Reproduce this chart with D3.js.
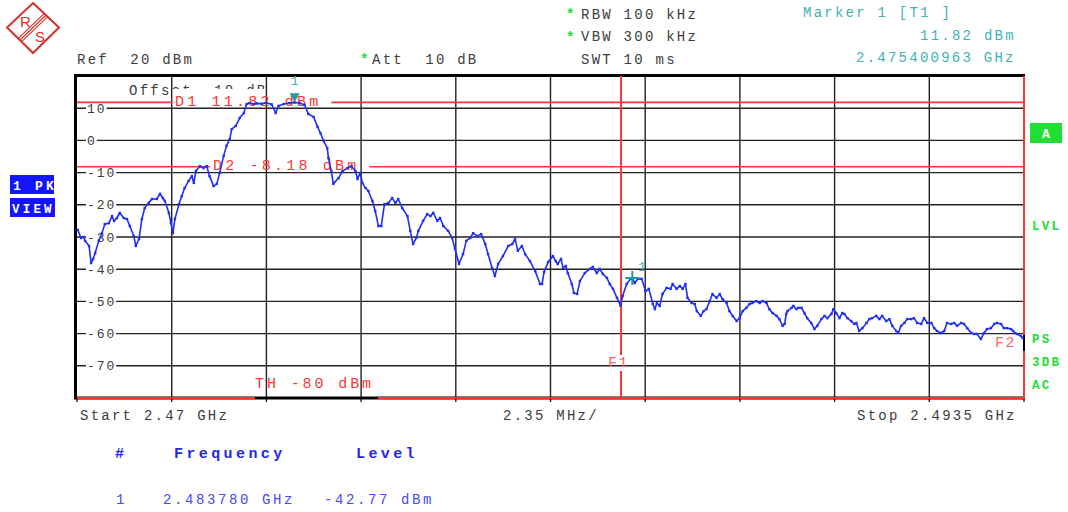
<!DOCTYPE html>
<html>
<head>
<meta charset="utf-8">
<script src="https://cdn.jsdelivr.net/npm/d3@7"></script>
<style>
  body { margin: 0; background: #fff; }
  svg { display: block; }
  text { white-space: pre; }
</style>
</head>
<body>
<svg id="chart" width="1068" height="512"></svg>
<script>
// Spectrum analyzer screen (R&S style), trace
const startFreq = 2470, stopFreq = 2493.5, spanPerDiv = 2.35; // MHz
const refLevel = 20, bottomLevel = -80;                         // dBm
const yTicks = [10, 0, -10, -20, -30, -40, -50, -60, -70];

const traceFreq = [
  2470.02, 2470.10, 2470.17, 2470.20, 2470.30, 2470.35, 2470.40, 2470.45, 2470.54, 2470.62,
  2470.69, 2470.79, 2470.87, 2470.92, 2470.99, 2471.06, 2471.16, 2471.24, 2471.31, 2471.41,
  2471.46, 2471.54, 2471.61, 2471.68, 2471.78, 2471.86, 2471.98, 2472.06, 2472.13, 2472.18,
  2472.28, 2472.33, 2472.38, 2472.43, 2472.53, 2472.60, 2472.67, 2472.77, 2472.85, 2472.90,
  2472.95, 2473.05, 2473.14, 2473.22, 2473.29, 2473.39, 2473.47, 2473.54, 2473.64, 2473.71,
  2473.79, 2473.84, 2473.94, 2474.04, 2474.14, 2474.21, 2474.28, 2474.38, 2474.46, 2474.58,
  2474.70, 2474.83, 2474.93, 2475.00, 2475.13, 2475.27, 2475.40, 2475.52, 2475.65, 2475.74,
  2475.87, 2475.97, 2476.04, 2476.12, 2476.21, 2476.24, 2476.31, 2476.36, 2476.49, 2476.59,
  2476.71, 2476.81, 2476.91, 2476.96, 2477.03, 2477.08, 2477.16, 2477.23, 2477.33, 2477.40,
  2477.48, 2477.55, 2477.63, 2477.73, 2477.82, 2477.90, 2477.97, 2478.07, 2478.20, 2478.27,
  2478.34, 2478.42, 2478.47, 2478.59, 2478.69, 2478.77, 2478.84, 2478.94, 2479.01, 2479.09,
  2479.21, 2479.31, 2479.38, 2479.48, 2479.58, 2479.66, 2479.76, 2479.83, 2479.93, 2480.03,
  2480.13, 2480.20, 2480.30, 2480.37, 2480.45, 2480.57, 2480.70, 2480.80, 2480.87, 2480.94,
  2481.04, 2481.12, 2481.24, 2481.37, 2481.49, 2481.54, 2481.59, 2481.69, 2481.81, 2481.88,
  2481.93, 2482.01, 2482.06, 2482.13, 2482.18, 2482.28, 2482.33, 2482.41, 2482.48, 2482.60,
  2482.73, 2482.80, 2482.90, 2482.97, 2483.05, 2483.15, 2483.22, 2483.30, 2483.40, 2483.49,
  2483.54, 2483.64, 2483.74, 2483.78, 2483.84, 2483.92, 2484.01, 2484.11, 2484.19, 2484.29,
  2484.34, 2484.39, 2484.46, 2484.53, 2484.63, 2484.73, 2484.78, 2484.88, 2484.96, 2485.03,
  2485.10, 2485.15, 2485.25, 2485.33, 2485.38, 2485.48, 2485.55, 2485.62, 2485.70, 2485.77,
  2485.87, 2485.95, 2486.02, 2486.12, 2486.19, 2486.27, 2486.37, 2486.44, 2486.52, 2486.61,
  2486.69, 2486.76, 2486.86, 2486.94, 2487.01, 2487.11, 2487.18, 2487.26, 2487.36, 2487.43,
  2487.51, 2487.56, 2487.60, 2487.63, 2487.73, 2487.78, 2487.85, 2487.90, 2487.98, 2488.05,
  2488.12, 2488.22, 2488.30, 2488.37, 2488.47, 2488.55, 2488.62, 2488.72, 2488.77, 2488.84,
  2488.92, 2488.99, 2489.04, 2489.12, 2489.21, 2489.29, 2489.34, 2489.41, 2489.49, 2489.59,
  2489.66, 2489.73, 2489.83, 2489.91, 2489.98, 2490.08, 2490.16, 2490.23, 2490.33, 2490.38,
  2490.45, 2490.53, 2490.60, 2490.70, 2490.77, 2490.85, 2490.95, 2491.02, 2491.10, 2491.20,
  2491.27, 2491.34, 2491.44, 2491.52, 2491.59, 2491.69, 2491.77, 2491.84, 2491.94, 2492.01,
  2492.09, 2492.19, 2492.26, 2492.33, 2492.43, 2492.51, 2492.58, 2492.68, 2492.76, 2492.83,
  2492.93, 2493.00, 2493.08, 2493.18, 2493.23, 2493.32, 2493.42, 2493.47
];
const traceLevel = [
  -27.8, -30.3, -30.0, -31.2, -32.8, -38.1, -36.8, -35.0, -31.2, -28.8,
  -26.0, -25.7, -23.5, -25.0, -24.1, -22.5, -24.1, -24.4, -26.6, -29.7,
  -32.8, -30.6, -24.4, -21.0, -19.4, -18.2, -18.2, -16.6, -17.9, -18.8,
  -22.5, -25.7, -28.8, -24.4, -19.8, -17.3, -14.8, -12.6, -11.1, -13.2,
  -9.5, -8.0, -8.6, -8.0, -11.1, -14.2, -13.5, -10.1, -4.8, -1.7,
  0.4, 3.5, 4.5, 7.0, 8.5, 11.3, 11.6, 11.3, 11.5, 11.4,
  11.6, 11.2, 8.5, 10.7, 11.3, 11.6, 11.82, 11.6, 11.0, 8.2,
  7.3, 4.2, 2.3, -0.2, -2.4, -5.5, -9.5, -13.5, -11.7, -9.5,
  -8.6, -8.0, -9.5, -12.0, -10.1, -13.2, -14.8, -15.7, -18.8, -21.9,
  -26.6, -26.6, -19.8, -19.4, -17.9, -19.4, -18.2, -21.0, -23.5, -28.1,
  -32.2, -30.3, -28.1, -25.0, -22.9, -23.5, -22.5, -25.0, -24.1, -26.6,
  -28.1, -30.3, -33.7, -38.4, -35.3, -31.2, -30.3, -28.8, -29.7, -29.1,
  -32.2, -35.3, -39.6, -42.1, -38.4, -35.9, -32.8, -32.2, -30.6, -34.3,
  -32.8, -35.3, -37.5, -40.6, -44.6, -44.6, -40.9, -37.8, -35.9, -37.5,
  -38.4, -36.8, -39.6, -39.0, -41.2, -44.6, -47.4, -47.7, -43.7, -41.2,
  -39.9, -39.3, -41.2, -39.9, -41.5, -42.7, -44.6, -46.1, -48.9, -51.4,
  -48.3, -44.6, -43.0, -42.77, -44.3, -43.0, -43.0, -46.8, -46.1, -50.8,
  -52.4, -50.5, -51.4, -47.7, -45.8, -46.1, -44.6, -46.1, -45.2, -46.1,
  -44.6, -48.9, -50.5, -50.8, -53.0, -54.5, -53.0, -52.4, -49.9, -47.7,
  -48.9, -47.7, -49.3, -50.5, -53.0, -54.5, -56.1, -55.2, -53.0, -52.0,
  -50.8, -50.5, -49.9, -50.5, -49.9, -50.5, -52.4, -53.6, -54.5, -55.5,
  -57.6, -57.0, -53.9, -53.0, -52.0, -51.4, -52.4, -52.0, -52.0, -53.6,
  -55.2, -56.7, -58.6, -57.6, -55.5, -54.5, -55.2, -53.9, -52.4, -53.6,
  -55.2, -53.6, -53.9, -55.2, -56.1, -57.0, -56.7, -59.2, -58.3, -56.7,
  -55.5, -55.2, -54.5, -55.5, -54.5, -56.1, -55.5, -57.6, -59.2, -59.8,
  -57.6, -56.7, -55.5, -55.5, -55.2, -56.7, -57.0, -55.2, -56.7, -56.7,
  -58.3, -59.2, -59.8, -59.2, -56.7, -57.0, -56.7, -57.6, -56.7, -57.0,
  -58.3, -59.8, -60.1, -60.1, -61.7, -59.8, -58.6, -58.3, -57.0, -56.7,
  -57.0, -58.3, -58.3, -58.6, -59.2, -60.1, -60.7, -61.4
];

const displayLines = [{ name: 'D1', level: 11.82 }, { name: 'D2', level: -8.18 }];
const threshold = { name: 'TH', level: -80 };
const freqLines = [{ name: 'F1', freq: 2483.5 }, { name: 'F2', freq: 2493.5 }];
const marker1 = { freq: 2475.400963, level: 11.82 };
const marker2 = { freq: 2483.78, level: -42.77 };

const headerLeft = ['Ref  20 dBm', 'Att  10 dB'];
const headerMid = ['RBW 100 kHz', 'VBW 300 kHz', 'SWT 10 ms'];
const headerRight = ['Marker 1 [T1 ]', '11.82 dBm', '2.475400963 GHz'];
const footerAxis = ['Start 2.47 GHz', '2.35 MHz/', 'Stop 2.4935 GHz'];
const tableHead = ['#', 'Frequency', 'Level'];
const tableRow = ['1', '2.483780 GHz', '-42.77 dBm'];
const sideRight = ['LVL', 'PS', '3DB', 'AC'];

const svg = d3.select('#chart');
const mono = '"Liberation Mono", "DejaVu Sans Mono", monospace';
const x = d3.scaleLinear().domain([startFreq, stopFreq]).range([77, 1024]);
const y = d3.scaleLinear().domain([bottomLevel, refLevel]).range([398, 76]);

const GRAY = '#3c3c3c', RED = '#ff3535', RED2 = '#ff6464', TEAL = '#3fb3b3',
      TEAL2 = '#1f9c9c', BLUE = '#1e30f5', GREEN = '#22dd33';

function txt(parent, px, py, s, size, spacing, color, weight) {
  return parent.append('text')
    .attr('x', px).attr('y', py)
    .attr('font-family', mono).attr('font-size', size)
    .attr('font-weight', weight || 'normal')
    .style('letter-spacing', spacing + 'px')
    .attr('fill', color).text(s);
}

// offset note, partly hidden under the D1 label box
txt(svg, 129, 95, 'Offset  10 dB', 14, 2.25, GRAY);
svg.append('rect').attr('x', 172).attr('y', 89).attr('width', 160).attr('height', 17).attr('fill', '#fff');

// grid
const grid = svg.append('g').attr('stroke', '#222').attr('stroke-width', 1.4);
d3.range(1, 10).forEach(i => {
  const gx = x(startFreq + i * spanPerDiv);
  grid.append('line').attr('x1', gx).attr('x2', gx).attr('y1', y(refLevel)).attr('y2', y(bottomLevel));
});
yTicks.forEach(v => {
  grid.append('line').attr('x1', x(startFreq)).attr('x2', x(stopFreq)).attr('y1', y(v)).attr('y2', y(v));
});
d3.range(0, 11).forEach(i => {
  const gx = x(startFreq + i * spanPerDiv);
  grid.append('line').attr('x1', gx).attr('x2', gx).attr('y1', y(bottomLevel)).attr('y2', y(bottomLevel) + 4);
});

// level labels inside the plot, with white behind them
yTicks.forEach(v => {
  const t = txt(svg, 87, y(v) + 4.5, String(v), 13, 1.9, GRAY);
  const w = t.node().getComputedTextLength() - 1.9;
  svg.insert('rect', 'text:last-of-type').attr('x', 86).attr('y', y(v) - 3).attr('width', w + 3).attr('height', 6).attr('fill', '#fff');
  t.raise();
});

// frame
svg.append('line').attr('x1', 74).attr('x2', 1025).attr('y1', 75.5).attr('y2', 75.5).attr('stroke', '#000').attr('stroke-width', 3);
svg.append('line').attr('x1', 75.5).attr('x2', 75.5).attr('y1', 74).attr('y2', 399).attr('stroke', '#000').attr('stroke-width', 3);
svg.append('line').attr('x1', 74).attr('x2', 1025).attr('y1', y(bottomLevel)).attr('y2', y(bottomLevel)).attr('stroke', '#000').attr('stroke-width', 3);
svg.append('line').attr('x1', 1024).attr('x2', 1024).attr('y1', 74).attr('y2', 399).attr('stroke', '#000').attr('stroke-width', 2);

// display lines D1 / D2
const dStart = { D1: 175, D2: 213 };
displayLines.forEach(d => {
  const ly = y(d.level);
  const t = txt(svg, dStart[d.name], ly + 3.5, `${d.name} ${d.level.toFixed(2)} dBm`, 15, 3.2, RED);
  const w = t.node().getComputedTextLength();
  svg.append('line').attr('x1', x(startFreq)).attr('x2', dStart[d.name] - 3).attr('y1', ly).attr('y2', ly).attr('stroke', RED).attr('stroke-width', 1.6);
  svg.append('line').attr('x1', dStart[d.name] + w + 10).attr('x2', x(stopFreq)).attr('y1', ly).attr('y2', ly).attr('stroke', RED).attr('stroke-width', 1.6);
});

// threshold line on the bottom edge
{
  const ly = y(threshold.level);
  const t = txt(svg, 255, ly - 10, `${threshold.name} ${threshold.level} dBm`, 15, 2.9, RED);
  const w = t.node().getComputedTextLength();
  svg.append('line').attr('x1', x(startFreq)).attr('x2', 255).attr('y1', ly).attr('y2', ly).attr('stroke', RED).attr('stroke-width', 2);
  svg.append('line').attr('x1', 255 + w + 4).attr('x2', x(stopFreq) + 1).attr('y1', ly).attr('y2', ly).attr('stroke', RED).attr('stroke-width', 2);
}

// frequency lines F1 / F2
const fLabel = { F1: { x: 608, base: 367 }, F2: { x: 995, base: 347 } };
freqLines.forEach(f => {
  const lx = x(f.freq), lb = fLabel[f.name];
  txt(svg, lb.x, lb.base, f.name, 15, 1.5, RED2);
  svg.append('line').attr('x1', lx).attr('x2', lx).attr('y1', y(refLevel)).attr('y2', lb.base - 12).attr('stroke', RED).attr('stroke-width', 2);
  svg.append('line').attr('x1', lx).attr('x2', lx).attr('y1', lb.base + 4).attr('y2', y(bottomLevel) + 1).attr('stroke', RED).attr('stroke-width', 2);
});

// trace
const pts = traceFreq.map((f, i) => [x(f), y(traceLevel[i])]);
svg.append('path')
  .attr('d', d3.line()(pts))
  .attr('fill', 'none').attr('stroke', BLUE).attr('stroke-width', 1.6).attr('stroke-linejoin', 'round');
svg.append('g').selectAll('rect').data(pts).enter().append('rect')
  .attr('x', d => d[0] - 1.2).attr('y', d => d[1] - 1.2).attr('width', 2.4).attr('height', 2.4).attr('fill', BLUE);

// marker 1: triangle at the peak
{
  const mx = x(marker1.freq), my = y(marker1.level);
  svg.append('path').attr('d', `M${mx - 5},${my - 9}L${mx + 5},${my - 9}L${mx},${my}Z`).attr('fill', TEAL2);
  txt(svg, mx, my - 17, '1', 13, 0, TEAL).attr('text-anchor', 'middle');
}
// second marker: cross
{
  const mx = x(marker2.freq), my = y(marker2.level);
  svg.append('path').attr('d', `M${mx - 7},${my}H${mx + 7}M${mx},${my - 7}V${my + 7}`)
    .attr('stroke', TEAL2).attr('stroke-width', 2).attr('fill', 'none');
  txt(svg, mx + 6, my - 7, '1', 13, 0, TEAL);
}

// header
txt(svg, 77, 63.5, headerLeft[0], 14, 2.25, GRAY);
txt(svg, 360, 64, '*', 14, 0, GREEN, 'bold');
txt(svg, 372, 63.5, headerLeft[1], 14, 2.25, GRAY);
txt(svg, 566, 19, '*', 14, 0, GREEN, 'bold');
txt(svg, 566, 41.5, '*', 14, 0, GREEN, 'bold');
headerMid.forEach((s, i) => txt(svg, 581, [18.5, 41, 63.5][i], s, 14, 2.25, GRAY));
txt(svg, 803, 17, headerRight[0], 14, 2.25, TEAL);
txt(svg, 920, 39.5, headerRight[1], 14, 2.25, TEAL);
txt(svg, 856, 62, headerRight[2], 14, 2.25, TEAL);

// footer
txt(svg, 80, 420, footerAxis[0], 14, 2.25, GRAY);
txt(svg, 503, 420, footerAxis[1], 14, 2.25, GRAY);
txt(svg, 857, 420, footerAxis[2], 14, 2.25, GRAY);
[115, 174, 356].forEach((px, i) => txt(svg, px, 458, tableHead[i], 15, 3.4, '#2626e6', 'bold'));
[116, 163, 324].forEach((px, i) => txt(svg, px, 504, tableRow[i], 14, 2.6, '#4a4aee'));

// left status boxes
const clip = svg.append('clipPath').attr('id', 'pk');
clip.append('rect').attr('x', 10).attr('y', 175).attr('width', 44).attr('height', 19);
svg.append('rect').attr('x', 10).attr('y', 175).attr('width', 44).attr('height', 19).attr('fill', '#1414ff');
txt(svg, 13, 190, '1 PK', 13, 3.2, '#fff', 'bold').attr('clip-path', 'url(#pk)');
svg.append('rect').attr('x', 10).attr('y', 198).attr('width', 45).attr('height', 19).attr('fill', '#1414ff');
txt(svg, 12, 213, 'VIEW', 12.5, 3.2, '#fff', 'bold');

// right status
svg.append('rect').attr('x', 1030).attr('y', 123).attr('width', 32).attr('height', 20).attr('fill', GREEN);
txt(svg, 1046, 138, 'A', 13, 0, '#fff', 'bold').attr('text-anchor', 'middle');
sideRight.forEach((s, i) => txt(svg, 1032, [230, 343, 366, 389][i], s, 12.5, 2.2, GREEN, 'bold'));

// logo
const logo = svg.append('g').attr('stroke', '#d6302c').attr('fill', 'none');
logo.append('path').attr('d', 'M33,3L59,27.5L33,53L7,27.5Z').attr('stroke-width', 2);
[-2.4, 0, 2.4].forEach(o => {
  logo.append('line').attr('x1', 46 + o * 0.69).attr('y1', 15 + o * 0.72)
    .attr('x2', 20 + o * 0.69).attr('y2', 40 + o * 0.72).attr('stroke-width', 1.1);
});
svg.append('text').attr('x', 20).attr('y', 27).attr('font-family', '"Liberation Sans", sans-serif')
  .attr('font-size', 15).attr('fill', '#d6302c').text('R');
svg.append('text').attr('x', 35).attr('y', 42).attr('font-family', '"Liberation Sans", sans-serif')
  .attr('font-size', 15).attr('fill', '#d6302c').text('S');
</script>
</body>
</html>
